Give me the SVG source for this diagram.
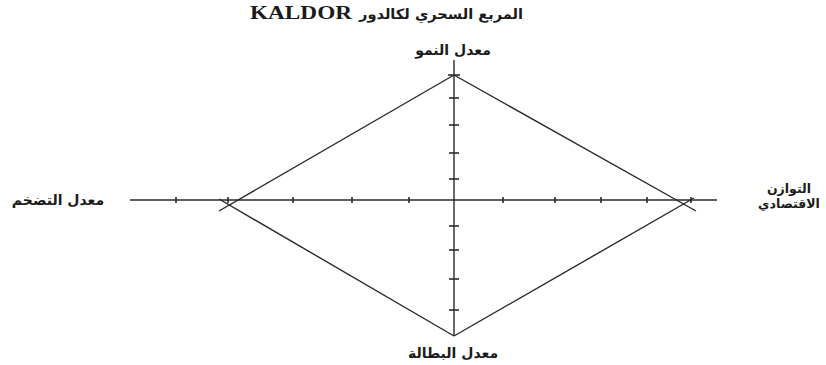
<svg xmlns="http://www.w3.org/2000/svg" width="826" height="365" viewBox="0 0 826 365">
<style>
.ln{stroke:#2a2a2a;stroke-width:1.4;fill:none}
.tk{stroke:#2a2a2a;stroke-width:1.6}
.ar{font-family:"DejaVu Sans",sans-serif;font-weight:bold;font-size:14px;fill:#1a1a1a}
.sm{font-size:12.5px}
.lat{font-family:"Liberation Serif",serif;font-weight:bold;font-size:18px;fill:#1a1a1a}
</style>
<rect width="826" height="365" fill="#ffffff"/>
<g id="title">
<text class="lat" x="250" y="19" textLength="102" lengthAdjust="spacingAndGlyphs">KALDOR</text>
<text class="ar" x="523" y="19" text-anchor="end" textLength="164" lengthAdjust="spacingAndGlyphs">المربع السحري لكالدور</text>
</g>
<g id="connectors">
<line class="ln" x1="130" y1="200" x2="717" y2="200"/>
<line class="ln" x1="454" y1="60" x2="454" y2="336"/>
<g class="tk">
<line x1="176" y1="197" x2="176" y2="203"/>
<line x1="228" y1="197" x2="228" y2="203"/>
<line x1="293" y1="197" x2="293" y2="203"/>
<line x1="352" y1="197" x2="352" y2="203"/>
<line x1="409" y1="197" x2="409" y2="203"/>
<line x1="503" y1="197" x2="503" y2="203"/>
<line x1="555" y1="197" x2="555" y2="203"/>
<line x1="601" y1="197" x2="601" y2="203"/>
<line x1="647" y1="197" x2="647" y2="203"/>
<line x1="691" y1="197" x2="691" y2="203"/>
<line x1="449" y1="98" x2="459" y2="98"/>
<line x1="449" y1="125" x2="459" y2="125"/>
<line x1="449" y1="153" x2="459" y2="153"/>
<line x1="449" y1="179" x2="459" y2="179"/>
<line x1="449" y1="226" x2="459" y2="226"/>
<line x1="449" y1="250" x2="459" y2="250"/>
<line x1="449" y1="279" x2="459" y2="279"/>
<line x1="449" y1="310" x2="459" y2="310"/>
<line x1="448" y1="75" x2="460" y2="75"/>
</g>
<line class="ln" x1="454" y1="75" x2="219" y2="211"/>
<line class="ln" x1="454" y1="336" x2="219" y2="199"/>
<line class="ln" x1="454" y1="75" x2="696" y2="211"/>
<line class="ln" x1="454" y1="336" x2="694" y2="198"/>
</g>
<g id="node-top"><text class="ar" x="453" y="55" text-anchor="middle">معدل النمو</text></g>
<g id="node-left"><text class="ar" x="58" y="205" text-anchor="middle">معدل التضخم</text></g>
<g id="node-right">
<text class="ar sm" x="789" y="193" text-anchor="middle">التوازن</text>
<text class="ar sm" x="789" y="208" text-anchor="middle">الاقتصادي</text>
</g>
<g id="node-bottom"><text class="ar" x="453" y="358" text-anchor="middle">معدل البطالة</text></g>
</svg>
